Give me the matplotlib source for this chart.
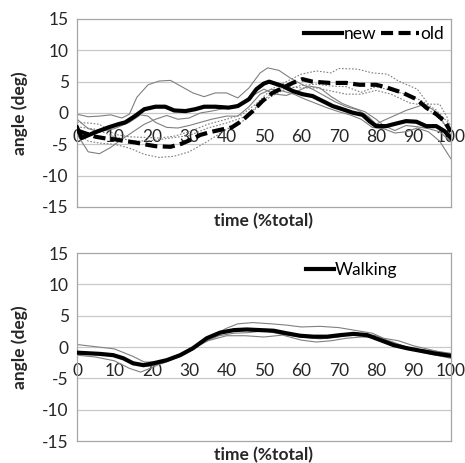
import matplotlib
matplotlib.use("Agg")
import matplotlib.pyplot as plt

plt.rcParams['font.family'] = ['Lato', 'DejaVu Sans']
plt.rcParams['axes.unicode_minus'] = False

# ---------------- data: top panel ----------------
new_x = [0, 1.25, 4.8, 8.4, 11, 12.9, 15.5, 18, 21, 23.6, 26, 29, 31.6, 34, 37, 40.5, 43, 46, 48, 50,
         51.4, 55, 57.7, 60.3, 63, 65.7, 68.4, 71, 73.7, 76.4, 78.2, 80, 82.7, 85.3, 88, 90.8, 93.4,
         96.1, 98.3, 100]
new_y = [-2.3, -4.0, -3.1, -2.3, -1.8, -1.5, -0.5, 0.6, 1.0, 1.0, 0.4, 0.3, 0.6, 1.0, 1.0, 0.85, 1.1,
         2.2, 3.8, 4.7, 5.0, 4.3, 3.5, 3.0, 2.7, 1.9, 1.1, 0.6, 0.05, -0.3, -1.3, -2.1, -2.1, -1.7,
         -1.3, -1.4, -2.1, -2.1, -2.9, -4.0]

old_x = [0, 2, 5, 8, 10, 13, 15.5, 18, 21, 25, 28, 30.7, 33, 36, 39, 41.4, 44, 47, 49.6, 52.3, 55,
         57.7, 60.3, 63, 67.5, 72, 75.5, 80, 82.7, 87.2, 90.8, 93.4, 96.1, 98.3, 100]
old_y = [-2.8, -3.2, -3.8, -4.1, -4.2, -4.5, -4.7, -5.0, -5.3, -5.4, -4.9, -4.2, -3.5, -3.0, -2.6,
         -2.3, -1.3, 0.3, 1.9, 3.2, 4.0, 4.8, 5.4, 5.0, 4.8, 4.8, 4.5, 4.5, 4.1, 3.2, 2.2, 0.85,
         -0.2, -1.3, -3.0]

new_t1_x = [0, 3, 6, 9, 12, 14, 16, 19, 22, 25, 28, 31, 34, 37, 40, 43, 46, 49, 51, 54, 57, 60, 63,
            66, 69, 72, 75, 78, 80, 82, 85, 88, 91, 93, 96, 98, 100]
new_t1_y = [-0.2, -0.6, -0.5, -0.3, -0.8, -0.2, 2.5, 4.5, 5.1, 5.2, 4.2, 3.2, 2.6, 3.2, 3.2, 2.4,
            4.0, 6.4, 7.2, 6.8, 5.6, 4.6, 3.8, 2.8, 1.8, 1.0, 0.5, -0.6, -1.8, -1.2, -0.4, 0.4,
            1.0, 1.4, 0.2, -1.5, -3.5]
new_t2_x = [0, 3, 6, 10, 14, 17, 19, 21, 24, 27, 30, 33, 36, 40, 43, 46, 49, 52, 55, 58, 61, 64,
            67, 70, 73, 76, 79, 82, 85, 88, 91, 94, 97, 100]
new_t2_y = [-1.0, -2.5, -3.0, -2.5, -1.5, -0.3, -0.5, -1.5, -2.3, -2.4, -2.0, -1.5, -1.0, -0.5,
            -0.5, 1.0, 3.0, 3.8, 3.5, 3.0, 2.2, 1.5, 0.8, 0.2, -0.3, -1.0, -2.3, -2.5, -3.2,
            -3.0, -2.4, -3.0, -4.5, -7.3]
new_t3_x = [0, 3, 6, 9, 12, 15, 18, 21, 24, 27, 30, 33, 36, 40, 44, 47, 50, 53, 56, 59, 62, 65,
            68, 71, 74, 77, 80, 82, 85, 88, 91, 94, 97, 100]
new_t3_y = [-3.4, -6.2, -6.5, -5.5, -4.2, -3.0, -1.8, -1.0, -0.4, -1.0, -0.8, 0.0, 0.3, 0.8, 1.5,
            2.8, 3.8, 3.0, 2.8, 3.5, 4.3, 4.0, 2.6, 1.5, 0.8, 0.2, -1.0, -2.0, -2.8, -2.0, -2.2,
            -2.5, -3.0, -4.6]

old_t1_x = [0, 3, 6, 10, 14, 18, 22, 26, 30, 35, 40, 44, 48, 52, 56, 60, 64, 68, 70, 75, 79, 83,
            86, 91, 94, 97, 99, 100]
old_t1_y = [-1.5, -1.6, -1.8, -3.4, -3.8, -3.9, -4.0, -3.7, -3.0, -1.8, -1.0, -0.3, 1.5, 3.8,
            5.0, 6.2, 6.7, 6.4, 7.1, 7.0, 6.4, 6.2, 5.1, 3.8, 1.4, 1.4, -0.7, -2.9]
old_t2_x = [0, 5, 10, 15, 20, 25, 30, 35, 40, 45, 50, 55, 60, 64, 68, 72, 76, 80, 84, 88, 92, 96,
            100]
old_t2_y = [-2.2, -2.6, -3.8, -4.5, -4.4, -4.0, -3.6, -2.4, -1.6, -0.6, 2.0, 3.6, 4.4, 4.6, 4.3,
            4.2, 3.3, 4.2, 3.6, 3.0, 2.0, 0.5, -2.0]
old_t3_x = [0, 3, 6, 10, 14, 18, 22, 26, 30, 35, 40, 44, 48, 52, 56, 60, 64, 68, 72, 76, 80, 84,
            89, 92, 96, 100]
old_t3_y = [-3.0, -4.5, -4.8, -5.0, -5.6, -6.6, -7.1, -6.9, -6.2, -4.5, -2.6, -1.5, 0.8, 3.2,
            4.2, 4.0, 4.0, 3.5, 3.0, 3.0, 3.6, 3.0, 1.6, 1.3, -0.3, -3.0]

# ---------------- data: bottom panel ----------------
walk_x = [0, 6.2, 9.7, 12.4, 15, 17.8, 20.4, 24, 27.6, 31, 34.7, 38.3, 42, 45.4, 49, 52.6, 56,
          59.7, 63.3, 66.9, 70.4, 74, 77.6, 81.2, 84.7, 88.3, 91.9, 95.4, 100]
walk_y = [-0.9, -1.1, -1.3, -1.8, -2.6, -2.9, -2.6, -2.1, -1.3, -0.2, 1.4, 2.3, 2.7, 2.8, 2.7,
          2.6, 2.2, 1.8, 1.65, 1.65, 1.9, 2.1, 1.9, 1.1, 0.3, -0.2, -0.6, -1.0, -1.4]

walk_t1_x = [0, 10, 15, 18, 21, 25, 30, 35, 40, 43, 47, 52, 56, 60, 65, 70, 75, 79, 82, 86, 90,
             95, 100]
walk_t1_y = [0.4, -0.3, -1.5, -2.4, -2.4, -1.9, -0.6, 1.4, 3.0, 3.7, 3.9, 3.7, 3.5, 3.2, 3.3,
             3.1, 2.6, 2.2, 1.4, 1.0, 0.2, -0.5, -1.2]
walk_t2_x = [0, 5, 10, 14, 17, 20, 24, 30, 35, 40, 45, 50, 55, 60, 64, 68, 72, 76, 80, 84, 88,
             92, 96, 100]
walk_t2_y = [-1.3, -1.6, -2.2, -3.4, -4.0, -3.3, -2.2, -0.6, 1.0, 1.8, 1.8, 1.6, 1.9, 1.1, 0.8,
             1.0, 1.4, 1.6, 1.5, 0.9, 0.0, -0.8, -1.3, -1.8]
walk_t3_x = [0, 5, 10, 15, 19, 23, 28, 33, 38, 42, 46, 50, 55, 60, 65, 70, 75, 80, 85, 90, 95,
             100]
walk_t3_y = [-1.0, -1.1, -1.3, -2.4, -3.1, -2.6, -1.3, 0.5, 1.8, 2.2, 2.3, 2.6, 2.0, 1.6, 1.3,
             1.6, 2.2, 1.8, 0.6, -0.3, -0.6, -1.0]

y_ticks = [-15, -10, -5, 0, 5, 10, 15]
x_ticks = [0, 10, 20, 30, 40, 50, 60, 70, 80, 90, 100]
x_label = "time (%total)"
y_label = "angle (deg)"

# ---------------- figure ----------------
fig = plt.figure(figsize=(4.65, 4.63), dpi=100)
ax1 = fig.add_axes([0.1656, 0.553, 0.804, 0.406])
ax2 = fig.add_axes([0.1656, 0.0475, 0.804, 0.406])

frame_col = '#a6a6a6'
grid_col = '#c8c8c8'
thin_col = '#808080'
text_col = '#262626'
fs = 12.5


def style(ax):
    ax.set_xlim(0, 100)
    ax.set_ylim(-15, 15)
    ax.set_yticks(y_ticks)
    ax.set_yticklabels([str(t) for t in y_ticks], fontsize=fs, color=text_col)
    ax.tick_params(axis='y', length=0, pad=6)
    ax.set_xticks([])
    for s in ax.spines.values():
        s.set_color(frame_col)
        s.set_linewidth(0.9)
    for t in y_ticks[1:-1]:
        ax.axhline(t, color=grid_col, lw=0.9, zorder=0)
    # category labels sit just below the horizontal axis, which crosses at 0
    for t in x_ticks:
        ax.annotate(str(t), xy=(t, 0), xytext=(0, -17.5), textcoords='offset points',
                    ha='center', va='center', fontsize=fs, color=text_col, zorder=1)
    ax.set_xlabel(x_label, fontsize=fs, fontweight='bold', labelpad=4, color=text_col)
    ax.set_ylabel(y_label, fontsize=fs, fontweight='bold', color=text_col)
    ax.yaxis.set_label_coords(-0.13, 0.5)


style(ax1)
style(ax2)

thin_kw = dict(color=thin_col, lw=0.8, zorder=2)
dot_kw = dict(color=thin_col, lw=0.8, linestyle=(0, (1.5, 1.5)), zorder=2)

ax1.plot(new_t1_x, new_t1_y, **thin_kw)
ax1.plot(new_t2_x, new_t2_y, **thin_kw)
ax1.plot(new_t3_x, new_t3_y, **thin_kw)
ax1.plot(old_t1_x, old_t1_y, **dot_kw)
ax1.plot(old_t2_x, old_t2_y, **dot_kw)
ax1.plot(old_t3_x, old_t3_y, **dot_kw)
ax1.plot(new_x, new_y, color='black', lw=3, label='new', zorder=4, solid_joinstyle='round')
ax1.plot(old_x, old_y, color='black', lw=3, linestyle=(0, (2.9, 1.3)), dash_capstyle='butt',
         label='old', zorder=4)

ax1.legend(loc='upper right', ncol=2, frameon=False, fontsize=fs, handlelength=2.2,
           handletextpad=0.05, columnspacing=0.3, borderaxespad=0.1, borderpad=0.3)

ax2.plot(walk_t1_x, walk_t1_y, **thin_kw)
ax2.plot(walk_t2_x, walk_t2_y, **thin_kw)
ax2.plot(walk_t3_x, walk_t3_y, **thin_kw)
ax2.plot(walk_x, walk_y, color='black', lw=3, label='Walking', zorder=4)
ax2.legend(loc='upper right', bbox_to_anchor=(0.88, 1.0), frameon=False, fontsize=fs,
           handlelength=1.6, handletextpad=0.05, borderaxespad=0.2, borderpad=0.3)

fig.savefig('out.png', dpi=100)
